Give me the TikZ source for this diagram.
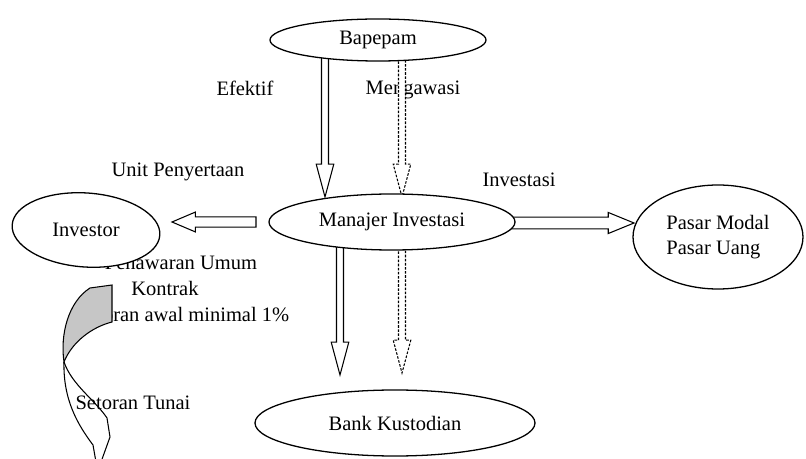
\documentclass[tikz,border=0pt]{standalone}
\usepackage{fontspec}
\setmainfont{Liberation Serif}
\usetikzlibrary{shapes.geometric,calc}
\newcommand{\blkdown}[3][]{%
  \draw[blk,#1] let \p1=(#2),\p2=(#3) in
    (\x1-3pt,\y1) -- (\x1-3pt,\y2+28pt) -- (\x1-7.5pt,\y2+28pt) -- (\x1,\y2)
    -- (\x1+7.5pt,\y2+28pt) -- (\x1+3pt,\y2+28pt) -- (\x1+3pt,\y1) -- cycle;}
\newcommand{\blkright}[5]{%
  \draw[blk] let \p1=(#1),\p2=(#2) in
    (\x1,\y1+#3) -- (\x2-#5,\y1+#3) -- (\x2-#5,\y1+#4) -- (\x2,\y1)
    -- (\x2-#5,\y1-#4) -- (\x2-#5,\y1-#3) -- (\x1,\y1-#3) -- cycle;}
\newcommand{\blkleft}[5]{%
  \draw[blk] let \p1=(#1),\p2=(#2) in
    (\x1,\y1+#3) -- (\x2+#5,\y1+#3) -- (\x2+#5,\y1+#4) -- (\x2,\y1)
    -- (\x2+#5,\y1-#4) -- (\x2+#5,\y1-#3) -- (\x1,\y1-#3) -- cycle;}
\begin{document}
\begin{tikzpicture}[x=0.03cm,y=-0.03cm,
  ell/.style={draw, ellipse, line width=1.1pt, fill=white, inner sep=0pt,
    font=\fontsize{17.5}{21}\selectfont},
  lbl/.style={font=\fontsize{17.5}{21}\selectfont, inner sep=0pt},
  blk/.style={draw, line width=0.9pt, fill=white, line join=miter},
  dsh/.style={dash pattern=on 2.2pt off 1.3pt}]
\useasboundingbox (0,0) rectangle (806,459);

% labels
\node[lbl] (efektif) at (245,88) {Efektif};
\node[lbl] (mengawasi) at (413,90) {Mengawasi};
\node[lbl] (unit) at (178,172) {Unit Penyertaan};
\node[lbl] (invest) at (519,180) {Investasi};
\node[lbl] (penawaran) at (181,263) {Penawaran Umum};
\node[lbl] (kontrak) at (165,288) {Kontrak};
\node[lbl] (setoranawal) at (183,315) {Setoran awal minimal 1\%};
\node[lbl] (setorantunai) at (133,403) {Setoran Tunai};

% connector end points
\coordinate (a1s) at (325,45);  \coordinate (a1e) at (325,197);
\coordinate (a2s) at (402,45);  \coordinate (a2e) at (402,197);
\coordinate (a3s) at (256,222); \coordinate (a3e) at (172,222);
\coordinate (a4s) at (505,223); \coordinate (a4e) at (634,223);
\coordinate (a5s) at (340,235); \coordinate (a5e) at (340,375);
\coordinate (a6s) at (402,235); \coordinate (a6e) at (402,373);

% block arrows
\blkdown{a1s}{a1e}
\blkdown[dsh]{a2s}{a2e}
\blkleft{a3s}{a3e}{4.3pt}{8.5pt}{20pt}
\blkright{a4s}{a4e}{5pt}{9pt}{22pt}
\blkdown{a5s}{a5e}
\blkdown[dsh]{a6s}{a6e}

% ellipses
\node[ell, minimum width=6.48cm, minimum height=1.26cm] (bap) at (378,40) {Bapepam};
\node[ell, minimum width=7.38cm, minimum height=1.68cm] (mi) at (392,222) {Manajer Investasi};
\node[ell, minimum width=4.44cm, minimum height=2.22cm, rotate=-4] (inv) at (86,230) {};
\node[lbl] (invtext) at (inv.center) {Investor};
\node[ell, minimum width=5.1cm, minimum height=3.12cm, align=left] (pasar) at (718,237) {Pasar Modal\\Pasar Uang};
\node[ell, minimum width=8.4cm, minimum height=1.98cm] (bank) at (395,423) {Bank Kustodian};

% curved ribbon arrow
\filldraw[fill=gray!45, line width=0.9pt, line join=miter]
  (90,288) -- (112,285) -- (112,322)
  .. controls (92,327) and (72,342) .. (64,362)
  .. controls (60,335) and (68,302) .. (90,288) -- cycle;
\draw[line width=0.9pt] (64,362) .. controls (63,400) and (78,425) .. (93,445) -- (96,462);
\draw[line width=0.9pt, line join=miter] (64,362) .. controls (72,385) and (95,400) .. (107,418) -- (110,437) -- (101,462);
\end{tikzpicture}
\end{document}
